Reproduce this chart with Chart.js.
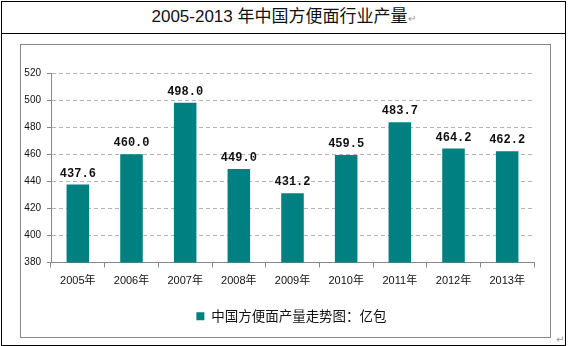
<!DOCTYPE html>
<html>
<head>
<meta charset="utf-8">
<script src="https://cdn.jsdelivr.net/npm/chart.js@4"></script>
<style>
  body { margin: 0; background: #fff; }
  #outer { position: absolute; left: 1px; top: 1px; width: 563px; height: 343px; border: 1px solid #000; }
  #title { position: absolute; left: 0; top: 0; width: 563px; height: 31px; border-bottom: 1px solid #000;
           text-align: center; line-height: 31px; font: 17px "Liberation Sans", "Noto Sans CJK SC", sans-serif; color: #111; }
  #title span { color: #999; font-size: 10px; }
  #box { position: absolute; left: 20px; top: 44px; width: 529px; height: 292px; border: 1px solid #888; }
  #ret { position: absolute; left: 556px; top: 334px; font: 10px "DejaVu Sans", sans-serif; color: #999; }
</style>
</head>
<body>
<div id="outer">
  <div id="title">2005-2013 年中国方便面行业产量<span>↵</span></div>
</div>
<div id="box"><canvas id="myChart"></canvas></div>
<div id="ret">↵</div>
<script>
const anios = ['2005年', '2006年', '2007年', '2008年', '2009年', '2010年', '2011年', '2012年', '2013年'];
const produccion = [437.6, 460.0, 498.0, 449.0, 431.2, 459.5, 483.7, 464.2, 462.2];
const nombreSerie = '中国方便面产量走势图：亿包';
const ejeMin = 380;
const ejeMax = 520;
const paso = 20;

// etiquetas de valor encima de cada barra
const etiquetasValor = {
  id: 'etiquetasValor',
  afterDatasetsDraw(chart) {
    const ctx = chart.ctx;
    ctx.save();
    ctx.font = 'bold 12px "Liberation Mono", monospace';
    ctx.fillStyle = '#111';
    ctx.textAlign = 'center';
    ctx.textBaseline = 'bottom';
    chart.getDatasetMeta(0).data.forEach((bar, i) => {
      ctx.fillText(produccion[i].toFixed(1), bar.x, bar.y - 5);
    });
    ctx.restore();
  }
};

// la leyenda del original esta un poco a la derecha
const moverLeyenda = {
  id: 'moverLeyenda',
  afterLayout(chart) {
    chart.legend.left += 14;
    chart.legend.right += 14;
  }
};

const config = {
  type: 'bar',
  data: {
    labels: anios,
    datasets: [{
      label: nombreSerie,
      data: produccion,
      backgroundColor: '#008080',
      categoryPercentage: 1,
      barPercentage: 0.42
    }]
  },
  options: {
    responsive: true,
    maintainAspectRatio: false,
    animation: false,
    layout: { padding: { top: 28, right: 16, bottom: 4, left: 0 } },
    plugins: {
      legend: {
        position: 'bottom',
        labels: {
          boxWidth: 8, boxHeight: 8, padding: 10, color: '#111',
          font: { size: 13.5, family: '"Noto Sans CJK SC", sans-serif' }
        }
      },
      tooltip: { enabled: false }
    },
    scales: {
      x: {
        afterFit: s => { s.height = 37; },
        grid: { drawOnChartArea: false, drawTicks: true, tickLength: 5, color: '#888', offset: true },
        border: { color: '#888' },
        ticks: { color: '#111', padding: 7, font: { size: 11, family: '"Liberation Sans", "Noto Sans CJK SC", sans-serif' } }
      },
      y: {
        min: ejeMin,
        max: ejeMax,
        afterFit: s => { s.width = 30; },
        grid: { color: '#b4b4b4', tickLength: 4, tickColor: '#888', tickBorderDash: [] },
        border: { color: '#888', dash: [4, 3] },
        ticks: { stepSize: paso, color: '#111', padding: 6, font: { size: 10, family: '"Liberation Sans", sans-serif' } }
      }
    }
  },
  plugins: [etiquetasValor, moverLeyenda]
};

new Chart(document.getElementById('myChart'), config);
</script>
</body>
</html>
